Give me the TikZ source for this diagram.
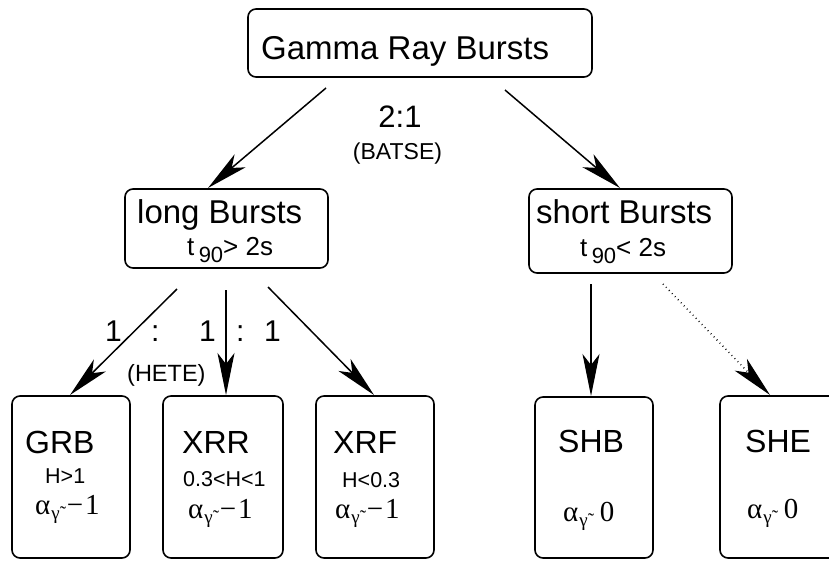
\documentclass[tikz,border=0pt]{standalone}
\usepackage{fontspec}
\setmainfont{Liberation Sans}
\newfontfamily\serif{Liberation Serif}
\usetikzlibrary{arrows.meta}
\tikzset{
  box/.style={draw, line width=1.6pt, rounded corners=8pt, inner sep=0pt},
  arr/.style={line width=1.5pt, -{Stealth[length=42pt,width=17pt,inset=11pt]}},
  dotarr/.style={arr, dash pattern=on 0.8pt off 3.5pt},
  txt/.style={anchor=base west, inner sep=0pt},
  huge/.style={txt, font=\fontsize{33}{40}\selectfont},
  mid/.style={txt, font=\fontsize{26}{31}\selectfont},
  small/.style={txt, font=\fontsize{21.5}{26}\selectfont},
  mth/.style={txt, font=\serif\fontsize{29}{32}\selectfont},
}
\newcommand{\subn}[1]{\raisebox{-7pt}{\fontsize{22}{26}\selectfont #1}}
\newcommand{\agam}[2]{α\hspace{1pt}\raisebox{-5pt}{\fontsize{19}{22}\selectfont γ̃}\hspace{#1}#2}
\begin{document}
\begin{tikzpicture}[x=1pt,y=-1pt]
\useasboundingbox (0,0) rectangle (829,560);
\clip (0,0) rectangle (829,560);
% boxes
\node[box, minimum width=344pt, minimum height=68pt] (gamma) at (420,43) {};
\node[box, minimum width=203pt, minimum height=79pt] (long) at (226.5,228.5) {};
\node[box, minimum width=203pt, minimum height=84pt] (short) at (630.5,231) {};
\node[box, minimum width=118pt, minimum height=162pt] (grb) at (71,477) {};
\node[box, minimum width=120pt, minimum height=162pt] (xrr) at (223,477) {};
\node[box, minimum width=118pt, minimum height=162pt] (xrf) at (375,477) {};
\node[box, minimum width=118pt, minimum height=161pt] (shb) at (594,477.5) {};
\node[box, minimum width=125pt, minimum height=162pt] (she) at (782.5,477) {};
% texts
\node[huge] (tgamma) at (261,59) {Gamma Ray Bursts};
\node[txt, anchor=base, font=\fontsize{31}{36}\selectfont] (r21) at (400,127) {2:1};
\node[txt, anchor=base, font=\fontsize{23}{28}\selectfont] (batse) at (397.5,159) {(BATSE)};
\node[huge] (tlong) at (137,223) {long Bursts};
\node[mid] (tlong2) at (187,255) {t\,\subn{90}> 2s};
\node[huge] (tshort) at (536,223) {short Bursts};
\node[mid] (tshort2) at (580,256) {t\,\subn{90}< 2s};
\node[txt, font=\fontsize{30}{36}\selectfont] (n1) at (105,341) {1};
\node[txt, font=\fontsize{30}{36}\selectfont] (c1) at (151,341) {:};
\node[txt, font=\fontsize{30}{36}\selectfont] (n2) at (199,341) {1};
\node[txt, font=\fontsize{30}{36}\selectfont] (c2) at (236,341) {:};
\node[txt, font=\fontsize{30}{36}\selectfont] (n3) at (264,341) {1};
\node[txt, font=\fontsize{23.5}{28}\selectfont] (hete) at (127,381) {(HETE)};
\node[huge, font=\fontsize{32}{38}\selectfont] (tgrb) at (25,453) {GRB};
\node[small] (hgrb) at (45,483) {H>1};
\node[mth] (agrb) at (35,514) {\agam{7pt}{−\hspace{2pt}1}};
\node[huge, font=\fontsize{32}{38}\selectfont] (txrr) at (182,453) {XRR};
\node[small] (hxrr) at (183,486) {0.3<H<1};
\node[mth] (axrr) at (188,518) {\agam{7pt}{−\hspace{2pt}1}};
\node[huge, font=\fontsize{32}{38}\selectfont] (txrf) at (333,453) {XRF};
\node[small] (hxrf) at (342,487) {H<0.3};
\node[mth] (axrf) at (335,518) {\agam{7pt}{−\hspace{2pt}1}};
\node[huge, font=\fontsize{32}{38}\selectfont] (tshb) at (558,452) {SHB};
\node[mth] (ashb) at (563,521) {\agam{12pt}{0}};
\node[huge, font=\fontsize{32}{38}\selectfont] (tshe) at (745,452) {SHE};
\node[mth] (ashe) at (747,518) {\agam{12pt}{0}};
% connector end points
\coordinate (s1) at (326,88);  \coordinate (e1) at (208,188);
\coordinate (s2) at (505,90);  \coordinate (e2) at (620,188);
\coordinate (s3) at (177,289); \coordinate (e3) at (70,395);
\coordinate (s4) at (226,290); \coordinate (e4) at (226,395);
\coordinate (s5) at (268,287); \coordinate (e5) at (374,395);
\coordinate (s6) at (591,284); \coordinate (e6) at (591,396);
\coordinate (s7) at (663,284); \coordinate (e7) at (770,395);
\draw[arr] (s1) -- (e1);
\draw[arr] (s2) -- (e2);
\draw[arr] (s3) -- (e3);
\draw[arr] (s4) -- (e4);
\draw[arr] (s5) -- (e5);
\draw[arr] (s6) -- (e6);
\draw[dotarr] (s7) -- (e7);
\end{tikzpicture}
\end{document}
